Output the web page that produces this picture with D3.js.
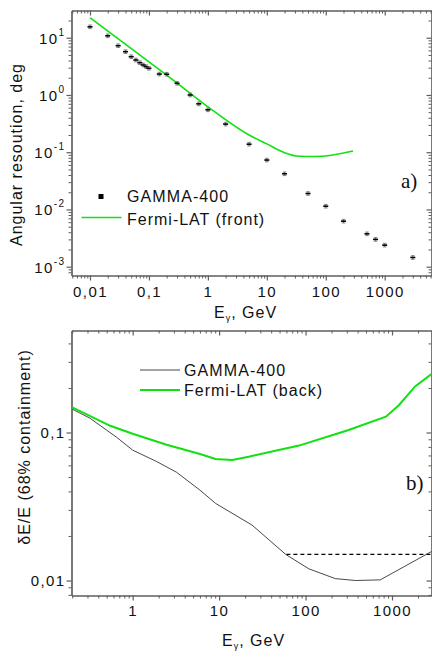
<!DOCTYPE html>
<html><head><meta charset="utf-8">
<script src="https://cdn.jsdelivr.net/npm/d3@7"></script>
<style>
body{margin:0;background:#fff}
svg{display:block}
text{font-family:"Liberation Sans",Arial,sans-serif;fill:#111}
text.serif{font-family:"Liberation Serif","Times New Roman",serif}
</style>
</head><body>
<svg id="c" width="432" height="651"></svg>
<script>
// ---------- Panel a: angular resolution ----------
const gammaAngE   = [0.01,0.02,0.03,0.04,0.05,0.06,0.07,0.08,0.09,0.1,0.15,0.2,0.3,0.5,0.7,1,2,5,10,20,50,100,200,500,700,1000,3000];
const gammaAngRes = [15.5,10.8,7.25,5.7,4.66,4.08,3.66,3.34,3.12,2.92,2.32,2.3,1.6,1.0,0.70,0.55,0.31,0.138,0.073,0.042,0.019,0.0114,0.00625,0.00375,0.0030,0.00238,0.00145];
const fermiFrontE   = [0.01,0.19,1.37,5,10,20,31,68,290];
const fermiFrontRes = [22.3,2.32,0.49,0.2,0.14,0.098,0.086,0.084,0.105];
const aXTicks = [0.01,0.1,1,10,100,1000];
const aXLabels = ["0,01","0,1","1","10","100","1000"];
const aYTicks = [0.001,0.01,0.1,1,10];
const aYExp = ["-3","-2","-1","0","1"];

// ---------- Panel b: energy resolution ----------
const gammaEnE   = [0.2,0.32,0.65,1.0,1.9,3.2,6,9.1,24,59,109,221,377,731,2864];
const gammaEnRes = [0.144,0.125,0.093,0.076,0.0636,0.054,0.0408,0.0332,0.0237,0.015,0.012,0.0103,0.01,0.0101,0.0157];
const fermiBackE   = [0.2,0.55,1.0,2.47,6,9.1,14.2,22,84,315,850,1200,1850,2864];
const fermiBackRes = [0.148,0.111,0.098,0.0826,0.0716,0.0662,0.0653,0.0687,0.0816,0.104,0.128,0.153,0.205,0.248];
const dashedE   = [60,2864];
const dashedRes = [0.015,0.015];
const bXTicks = [1,10,100,1000];
const bXLabels = ["1","10","100","1000"];
const bYTicks = [0.01,0.1];
const bYLabels = ["0,01","0,1"];

const svg = d3.select("#c");
const AXC = "#5f5f5f";
const GREEN = "#11e011";

function minorTicks(dom){
  const out=[];
  const lo=Math.floor(Math.log10(dom[0])), hi=Math.ceil(Math.log10(dom[1]));
  for(let d=lo; d<=hi; d++) for(let m=2;m<=9;m++){
    const v=m*Math.pow(10,d);
    if(v>=dom[0]*1.0001 && v<=dom[1]*0.9999) out.push(v);
  }
  return out;
}

function frame(x,y,L,R,T,B){
  const mx = minorTicks(x.domain()), my = minorTicks(y.domain());
  const style = g => { g.selectAll("path,line").attr("stroke",AXC).attr("stroke-width",1); g.selectAll("path").attr("stroke-width",1.2); };
  svg.append("g").attr("transform",`translate(0,${B})`).call(d3.axisBottom(x).tickValues(mx).tickSize(3).tickFormat("").tickSizeOuter(0)).call(style);
  svg.append("g").attr("transform",`translate(${L},0)`).call(d3.axisLeft(y).tickValues(my).tickSize(3).tickFormat("").tickSizeOuter(0)).call(style);
  svg.append("g").attr("transform",`translate(0,${T})`).call(d3.axisBottom(x).tickValues(mx).tickSize(3).tickFormat("").tickSizeOuter(0)).call(style);
  svg.append("g").attr("transform",`translate(${R},0)`).call(d3.axisLeft(y).tickValues(my).tickSize(3).tickFormat("").tickSizeOuter(0)).call(style);
}

function majors(x,y,L,R,T,B,xt,xl,yt,yfmt,xLabY,yLabX,yLabDy){
  const style = g => { g.selectAll("path,line").attr("stroke",AXC).attr("stroke-width",1.2); };
  const gb = svg.append("g").attr("transform",`translate(0,${B})`)
    .call(d3.axisBottom(x).tickValues(xt).tickSize(5).tickSizeOuter(0).tickFormat((d,i)=>xl[i])).call(style);
  gb.selectAll("text").attr("y",xLabY).attr("dy",null).attr("font-size",15).attr("letter-spacing","1.4px").attr("fill","#111");
  const gl = svg.append("g").attr("transform",`translate(${L},0)`)
    .call(d3.axisLeft(y).tickValues(yt).tickSize(5).tickSizeOuter(0).tickFormat("")).call(style);
  gl.selectAll(".tick").each(function(d,i){
    const t = d3.select(this).append("text").attr("x",yLabX).attr("dy",yLabDy)
      .attr("text-anchor","end").attr("font-size",15).attr("letter-spacing","1.4px").attr("fill","#111");
    yfmt(t,i);
  });
  svg.append("g").attr("transform",`translate(0,${T})`)
    .call(d3.axisBottom(x).tickValues(xt).tickSize(5).tickSizeOuter(0).tickFormat("")).call(style);
  svg.append("g").attr("transform",`translate(${R},0)`)
    .call(d3.axisLeft(y).tickValues(yt).tickSize(5).tickSizeOuter(0).tickFormat("")).call(style);
}

// ================= Panel a =================
const aL=71.5, aR=431.5, aT=10.5, aB=275.5;
const xA = d3.scaleLog().domain([0.004854, 6223]).range([aL,aR]);
const yA = d3.scaleLog().domain([0.000702, 29.9]).range([aB,aT]);
frame(xA,yA,aL,aR,aT,aB);
majors(xA,yA,aL,aR,aT,aB,aXTicks,aXLabels,aYTicks,(t,i)=>{
  t.append("tspan").text("10");
  t.append("tspan").attr("font-size",10).attr("dy",-8).text(aYExp[i]);
},21,-6,5.5);

const lineA = d3.line().x(d=>xA(d[0])).y(d=>yA(d[1])).curve(d3.curveMonotoneX);
svg.append("path").datum(fermiFrontE.map((e,i)=>[e,fermiFrontRes[i]]))
  .attr("d",lineA).attr("fill","none").attr("stroke",GREEN).attr("stroke-width",1.6);

const pts = svg.append("g").selectAll("g").data(gammaAngE.map((e,i)=>[e,gammaAngRes[i]])).join("g")
  .attr("transform",d=>`translate(${xA(d[0])},${yA(d[1])})`);
pts.append("line").attr("x1",0).attr("x2",0).attr("y1",-1.8).attr("y2",1.8).attr("stroke","#444").attr("stroke-width",0.7);
pts.append("line").attr("x1",-1.8).attr("x2",1.8).attr("y1",-1.8).attr("y2",-1.8).attr("stroke","#555").attr("stroke-width",0.7);
pts.append("line").attr("x1",-1.8).attr("x2",1.8).attr("y1",1.8).attr("y2",1.8).attr("stroke","#555").attr("stroke-width",0.7);
pts.append("rect").attr("x",-2.5).attr("y",-0.8).attr("width",5).attr("height",1.6).attr("fill","#000");

// legend a
svg.append("rect").attr("x",98.5).attr("y",194).attr("width",5).attr("height",5).attr("fill","#000");
svg.append("text").attr("x",127).attr("y",202).attr("font-size",16).attr("letter-spacing","1.1px").text("GAMMA-400");
svg.append("line").attr("x1",81.5).attr("x2",121.5).attr("y1",217.5).attr("y2",217.5).attr("stroke",GREEN).attr("stroke-width",1.6);
svg.append("text").attr("x",127).attr("y",225).attr("font-size",16).attr("letter-spacing","1px").text("Fermi-LAT (front)");
svg.append("text").attr("class","serif").attr("x",401).attr("y",188).attr("font-size",21).text("a)");

// axis labels a
svg.append("text").attr("transform","translate(22,154.5) rotate(-90)").attr("text-anchor","middle")
  .attr("font-size",16).attr("letter-spacing","1px").text("Angular resoution, deg");
const xlabA = svg.append("text").attr("x",214).attr("y",318).attr("font-size",16).attr("letter-spacing","1px");
xlabA.append("tspan").text("E");
xlabA.append("tspan").attr("font-size",9).attr("dy",3).text("γ");
xlabA.append("tspan").attr("dy",-3).text(", GeV");

// ================= Panel b =================
const bL=71.5, bR=431.5, bT=330.5, bB=595.5;
const xB = d3.scaleLog().domain([0.196, 2864]).range([bL,bR]);
const yB = d3.scaleLog().domain([0.00792, 0.489]).range([bB,bT]);
frame(xB,yB,bL,bR,bT,bB);
majors(xB,yB,bL,bR,bT,bB,bXTicks,bXLabels,bYTicks,(t,i)=>{ t.text(bYLabels[i]); },20.5,-6,4.5);

const lineB = d3.line().x(d=>xB(d[0])).y(d=>yB(d[1]));
svg.append("path").datum(dashedE.map((e,i)=>[e,dashedRes[i]]))
  .attr("d",lineB).attr("fill","none").attr("stroke","#000").attr("stroke-width",1.2).attr("stroke-dasharray","4,3");
svg.append("path").datum(gammaEnE.map((e,i)=>[e,gammaEnRes[i]]))
  .attr("d",lineB).attr("fill","none").attr("stroke","#333").attr("stroke-width",0.9);
svg.append("path").datum(fermiBackE.map((e,i)=>[e,fermiBackRes[i]]))
  .attr("d",lineB).attr("fill","none").attr("stroke",GREEN).attr("stroke-width",2);

// legend b
svg.append("line").attr("x1",140).attr("x2",180).attr("y1",370).attr("y2",370).attr("stroke","#333").attr("stroke-width",0.9);
svg.append("text").attr("x",184).attr("y",375.5).attr("font-size",16).attr("letter-spacing","1.1px").text("GAMMA-400");
svg.append("line").attr("x1",140).attr("x2",180).attr("y1",390).attr("y2",390).attr("stroke",GREEN).attr("stroke-width",2);
svg.append("text").attr("x",184).attr("y",396).attr("font-size",16).attr("letter-spacing","1px").text("Fermi-LAT (back)");
svg.append("text").attr("class","serif").attr("x",406).attr("y",490).attr("font-size",21).text("b)");

// axis labels b
svg.append("text").attr("transform","translate(30,447) rotate(-90)").attr("text-anchor","middle")
  .attr("font-size",16).attr("letter-spacing","1px").text("δE/E (68% containment)");
const xlabB = svg.append("text").attr("x",222).attr("y",646).attr("font-size",16).attr("letter-spacing","1px");
xlabB.append("tspan").text("E");
xlabB.append("tspan").attr("font-size",9).attr("dy",3).text("γ");
xlabB.append("tspan").attr("dy",-3).text(", GeV");
</script>
</body></html>
